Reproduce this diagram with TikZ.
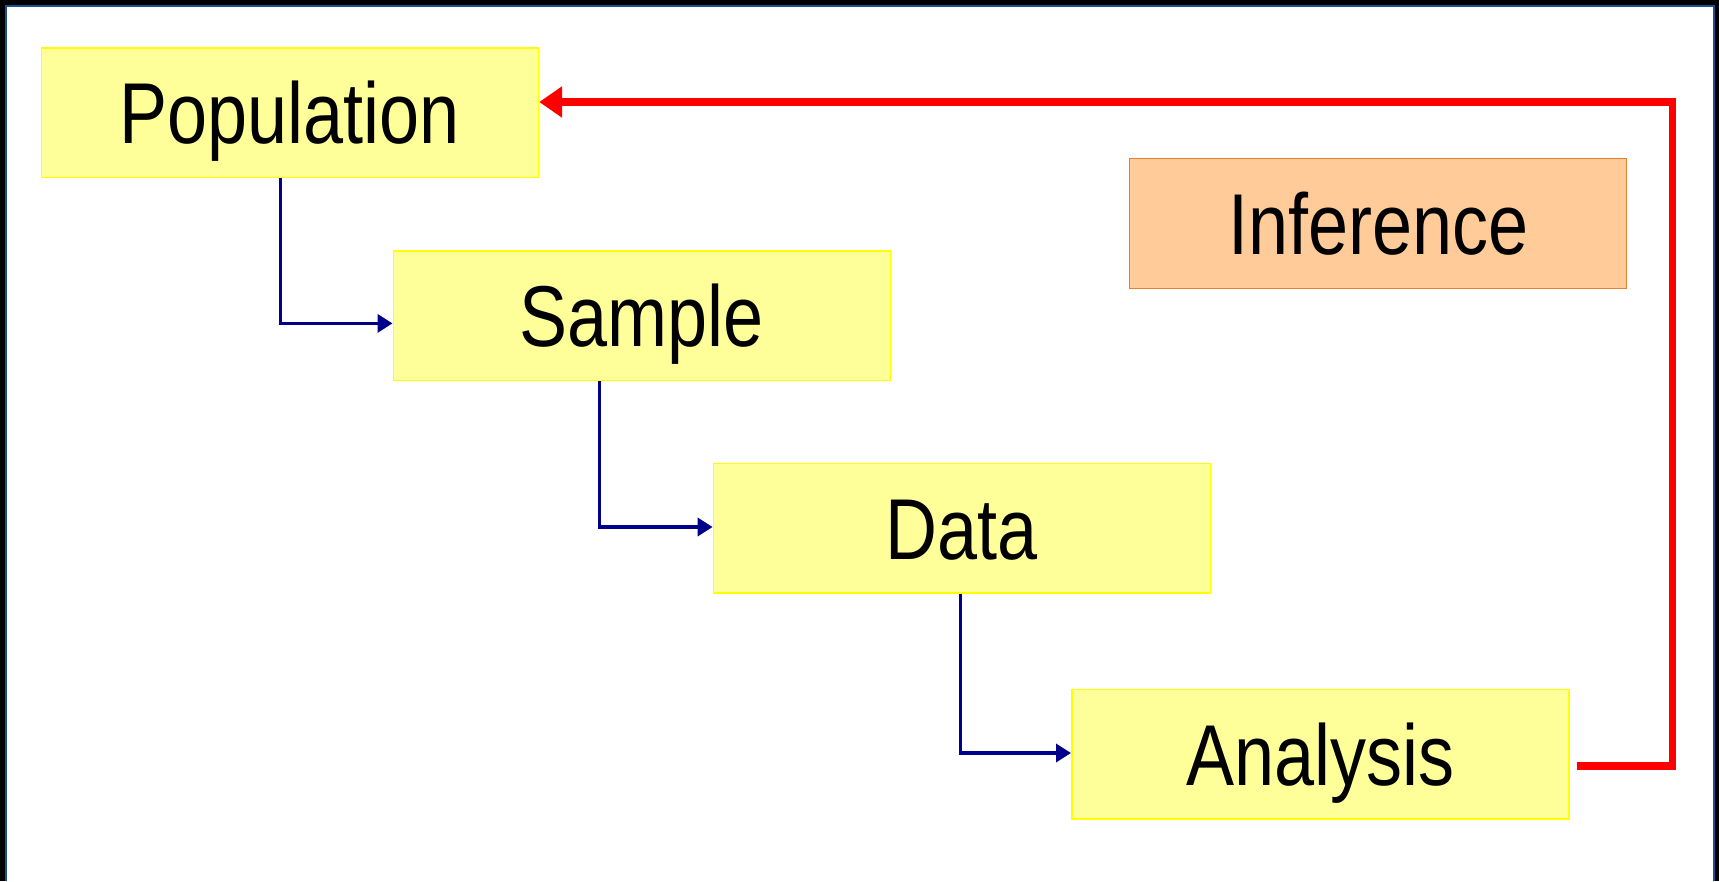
\documentclass[tikz,border=0pt]{standalone}
\usepackage{graphicx}
\usepackage{fontspec}
\setmainfont{Liberation Sans}
\usetikzlibrary{arrows.meta}

\definecolor{frameblue}{RGB}{31,78,150}
\definecolor{boxyellow}{RGB}{255,255,153}
\definecolor{edgeyellow}{RGB}{255,255,0}
\definecolor{boxorange}{RGB}{255,204,153}
\definecolor{edgeorange}{RGB}{228,128,48}
\definecolor{linkblue}{RGB}{0,0,139}
\definecolor{loopred}{RGB}{255,0,0}

% words in the boxes are set a little taller than wide
\newcommand{\tallword}[1]{\scalebox{1}[1.2]{#1}}

\begin{document}
\begin{tikzpicture}[x=1pt,y=-1pt,
  stagebox/.style={draw=edgeyellow, fill=boxyellow, line width=1.6pt,
    anchor=north west, minimum width=497pt, minimum height=129.5pt,
    inner sep=0pt, text height=62pt, text depth=0pt,
    font=\fontsize{72}{80}\selectfont},
  notebox/.style={stagebox, draw=edgeorange, fill=boxorange, line width=1.4pt},
  link/.style={draw=linkblue, line width=3.5pt,
    -{Triangle[length=15pt,width=18pt]}},
  feedback/.style={draw=loopred, line width=7.5pt,
    -{Triangle[length=23pt,width=30pt]}}]

  \useasboundingbox (0,0) rectangle (1719,881);

  % black surround with a thin blue frame around the white sheet
  \fill[black] (0,0) rectangle (1719,881);
  \fill[white] (6,6) rectangle (1714,881);
  \draw[frameblue, line width=2.5pt] (6.2,881) -- (6.2,6.2) -- (1713.8,6.2) -- (1713.8,881);

  % stages
  \node[stagebox] (pop)    at (40.6,47)   {\tallword{Population}};
  \node[stagebox] (sample) at (392.5,250) {\tallword{Sample}};
  \node[stagebox] (data)   at (712.6,462.6) {\tallword{Data}};
  \node[stagebox] (ana)    at (1071,688.5) {\tallword{Analysis}};
  \node[notebox]  (inf)    at (1129,158)  {\tallword{Inference}};

  % bends of the step connectors
  \coordinate (k1) at (280.6,323.4);
  \coordinate (k2) at (599.7,527);
  \coordinate (k3) at (960.4,753);

  \draw[link] (pop.south -| k1) |- (sample.west |- k1);
  \draw[link] (sample.south -| k2) |- (data.west |- k2);
  \draw[link] (data.south -| k3) |- (ana.west |- k3);

  % feedback loop from the analysis back to the population
  \coordinate (r1) at (1576.7,766);
  \coordinate (r2) at (1672.7,102);
  \draw[feedback] (r1) -- (r1 -| r2) -- (r2) -- (pop.east |- r2);
\end{tikzpicture}
\end{document}
